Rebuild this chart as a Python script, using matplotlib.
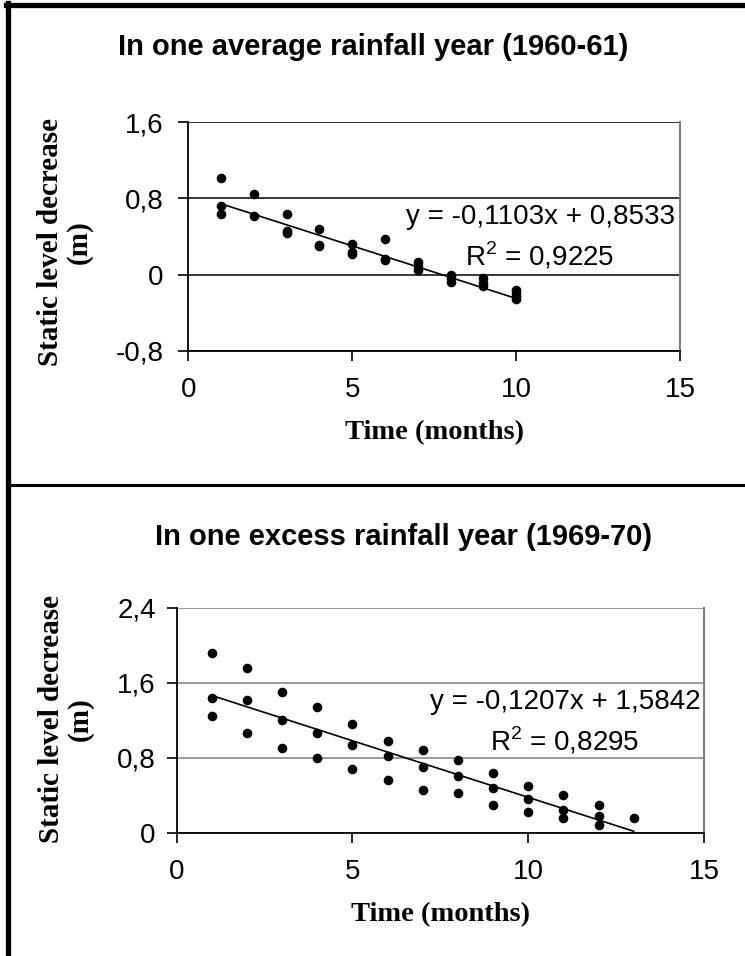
import matplotlib
matplotlib.use("Agg")
import matplotlib.pyplot as plt
from matplotlib.lines import Line2D
import numpy as np

# ---- data: top panel, average rainfall year 1960-61 ----
months_avg = [1, 1, 1, 2, 2, 3, 3, 3, 4, 4, 4, 5, 5, 5, 6, 6, 6,
              7, 7, 7, 8, 8, 8, 9, 9, 9, 10, 10, 10, 10]
decrease_avg = [1.01, 0.72, 0.64, 0.85, 0.62, 0.64, 0.46, 0.44,
                0.48, 0.31, 0.30, 0.32, 0.24, 0.22, 0.37, 0.16, 0.15,
                0.13, 0.09, 0.05, 0.00, -0.03, -0.08, -0.03, -0.09, -0.12,
                -0.16, -0.19, -0.22, -0.25]
trend_avg = [-0.1103, 0.8533]
r2_avg = "0,9225"

# ---- data: bottom panel, excess rainfall year 1969-70 ----
months_exc = [1, 1, 1, 2, 2, 2, 3, 3, 3, 4, 4, 4, 5, 5, 5, 6, 6, 6,
              7, 7, 7, 8, 8, 8, 9, 9, 9, 10, 10, 10, 11, 11, 11,
              12, 12, 12, 13]
decrease_exc = [1.92, 1.44, 1.24, 1.76, 1.42, 1.06, 1.50, 1.20, 0.90,
                1.34, 1.06, 0.80, 1.16, 0.94, 0.68, 0.98, 0.82, 0.56,
                0.88, 0.70, 0.46, 0.78, 0.60, 0.42, 0.64, 0.48, 0.30,
                0.50, 0.36, 0.22, 0.40, 0.24, 0.16, 0.30, 0.18, 0.08, 0.16]
trend_exc = [-0.1207, 1.5842]
r2_exc = "0,8295"

xticks = [0, 5, 10, 15]
yticks_avg = [-0.8, 0, 0.8, 1.6]
yticks_exc = [0, 0.8, 1.6, 2.4]

W, H = 745, 956
plt.rcParams['font.family'] = ['Liberation Sans', 'DejaVu Sans']
plt.rcParams['mathtext.fontset'] = 'custom'
plt.rcParams['mathtext.rm'] = 'Liberation Sans'
fig = plt.figure(figsize=(W / 100, H / 100), dpi=100)


def fx(px):
    return px / W


def fy(py):
    return 1 - py / H


def comma(v):
    return ('%g' % v).replace('.', ',')


def panel(rect, x, y, trend, r2, yticks, gridcol, ypad,
          title, title_pos, ylab_pos, eq_pos):
    ax = fig.add_axes(rect)
    ax.scatter(x, y, s=48, color='black', zorder=3, linewidths=0)
    # trendline from the equation shown on the chart
    xs = np.array([min(x), max(x)])
    ax.plot(xs, trend[0] * xs + trend[1], color='black', lw=1.2, zorder=2)

    ax.set_xlim(0, 15)
    ax.set_ylim(yticks[0], yticks[-1])
    ax.set_xticks(xticks)
    ax.set_xticklabels([str(t) for t in xticks])
    ax.set_yticks(yticks)
    ax.set_yticklabels([comma(t) for t in yticks])
    ax.tick_params(axis='both', direction='out', labelsize=20, width=1.2)
    ax.tick_params(axis='x', length=7, pad=12)
    ax.tick_params(axis='y', length=7, pad=ypad)
    ax.yaxis.grid(True, color=gridcol, lw=1.1)
    ax.set_axisbelow(True)
    ax.spines['top'].set_visible(False)
    ax.spines['right'].set_color('#808080')
    ax.spines['right'].set_linewidth(1.5)
    for s in ['left', 'bottom']:
        ax.spines[s].set_color('black')
        ax.spines[s].set_linewidth(1.3)

    ax.set_xlabel('Time (months)', family='Liberation Serif',
                  fontweight='bold', fontsize=20.5, labelpad=12)

    fig.text(fx(title_pos[0]), fy(title_pos[1]), title, fontsize=21,
             fontweight='bold', ha='center', va='center')
    fig.text(fx(ylab_pos[0]), fy(ylab_pos[1]),
             'Static level decrease\n(m)', family='Liberation Serif',
             fontweight='bold', fontsize=21, rotation=90, ha='center',
             va='center', multialignment='center', linespacing=1.05)

    sign = '+' if trend[1] >= 0 else '-'
    eq = 'y = %sx %s %s' % (comma(trend[0]), sign, comma(abs(trend[1])))
    fig.text(fx(eq_pos[0]), fy(eq_pos[1]), eq, fontsize=20,
             ha='center', va='center')
    fig.text(fx(eq_pos[0]), fy(eq_pos[1] + 39), 'R$^2$ = ' + r2,
             fontsize=20, ha='center', va='center')
    return ax


# plot areas in pixels: left, top, right, bottom
top_box = (188.3, 122.0, 680.0, 351.0)
bot_box = (176.7, 607.7, 704.0, 832.7)


def rect(b):
    return [fx(b[0]), fy(b[3]), fx(b[2] - b[0]), (b[3] - b[1]) / H]


panel(rect(top_box), months_avg, decrease_avg, trend_avg, r2_avg,
      yticks_avg, 'black', 11,
      'In one average rainfall year (1960-61)', (373, 47),
      (65, 242), (540, 217))
panel(rect(bot_box), months_exc, decrease_exc, trend_exc, r2_exc,
      yticks_exc, '#808080', 8,
      'In one excess rainfall year (1969-70)', (404, 537),
      (66, 719), (565, 702))

# frame lines around the two panels
fig.add_artist(Line2D([fx(8), fx(8)], [0, fy(3)], color='black',
                      lw=3.8, transform=fig.transFigure))
fig.add_artist(Line2D([fx(6), 1], [fy(5), fy(5)], color='black',
                      lw=3.8, transform=fig.transFigure))
fig.add_artist(Line2D([fx(8), 1], [fy(485), fy(485)], color='black',
                      lw=2.2, transform=fig.transFigure))

fig.savefig('out.png', dpi=100)
